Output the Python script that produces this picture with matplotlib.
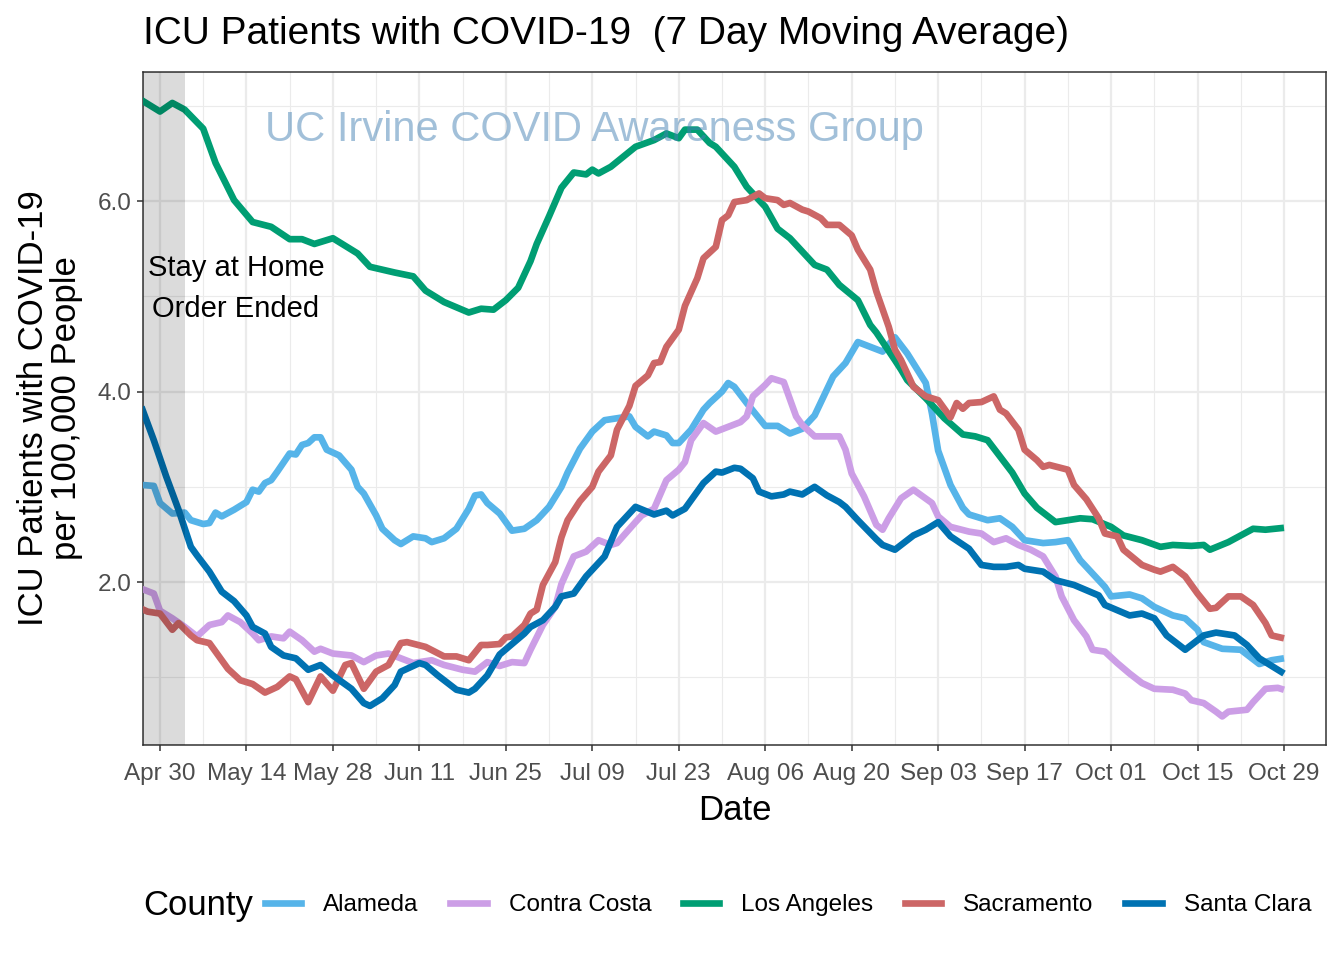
import matplotlib
matplotlib.use("Agg")
import matplotlib.pyplot as plt
import matplotlib.dates as mdates
from matplotlib.lines import Line2D
import numpy as np

# ---------------- data ----------------
BASE_DATE = "2020-04-30"   # day offsets below are relative to this date

counties = ["Alameda", "Contra Costa", "Los Angeles", "Sacramento", "Santa Clara"]
colors = ["#56B4E9", "#CC9EE6", "#009E73", "#CC6666", "#0072B2"]

alameda_days = [-3,-1,0,2,4,5,7,8,9,10,12,14,15,16,17,18,19,21,22,23,24,25,26,27,29,31,32,33,35,36,
                38,39,41,43,44,46,48,50,51,52,53,55,57,59,61,63,65,66,68,70,72,74,76,77,79,80,82,83,84,86,
                88,89,91,92,93,95,97,98,100,102,104,106,109,111,113,117,119,121,124,125,126,128,130,131,134,
                136,138,140,143,145,147,149,151,153,154,157,159,161,164,166,168,169,172,175,178,180,182]
alameda_vals = [3.02,3.01,2.83,2.72,2.73,2.65,2.61,2.62,2.73,2.69,2.76,2.84,2.97,2.95,3.04,3.07,3.16,3.35,3.34,3.44,
                3.46,3.52,3.52,3.39,3.33,3.18,3.00,2.93,2.70,2.56,2.44,2.40,2.48,2.46,2.42,2.46,2.56,2.77,2.91,2.92,
                2.83,2.72,2.54,2.56,2.65,2.79,3.00,3.15,3.40,3.58,3.70,3.72,3.74,3.63,3.53,3.58,3.54,3.46,3.46,3.60,
                3.81,3.88,4.00,4.09,4.05,3.88,3.72,3.64,3.64,3.56,3.61,3.75,4.16,4.30,4.52,4.42,4.57,4.40,4.09,3.77,
                3.38,3.02,2.78,2.71,2.65,2.67,2.58,2.44,2.41,2.42,2.44,2.23,2.09,1.95,1.85,1.87,1.83,1.74,1.65,1.62,
                1.50,1.37,1.30,1.29,1.14,1.18,1.20]

contra_costa_days = [-3,-1,0,2,4,6,8,10,11,13,15,16,18,20,21,23,25,26,28,31,33,35,37,39,41,44,46,49,51,53,
                     55,57,59,60,62,64,65,67,69,71,73,74,77,78,80,82,84,85,86,88,90,92,94,95,96,98,99,101,103,104,
                     106,108,110,111,112,114,116,117,118,120,122,125,126,128,131,133,135,137,139,141,
                     143,145,146,148,150,151,153,155,157,159,161,164,166,167,169,171,172,173,176,177,179,181,182]
contra_costa_vals = [1.93,1.88,1.70,1.62,1.53,1.43,1.55,1.58,1.65,1.58,1.46,1.39,1.43,1.41,1.48,1.39,1.27,1.30,1.25,1.23,
                     1.16,1.23,1.25,1.20,1.15,1.18,1.13,1.08,1.06,1.16,1.12,1.16,1.15,1.29,1.55,1.74,1.98,2.27,2.32,2.44,
                     2.39,2.41,2.63,2.70,2.77,3.07,3.18,3.26,3.49,3.67,3.58,3.63,3.68,3.74,3.95,4.07,4.14,4.10,3.74,3.65,
                     3.53,3.53,3.53,3.39,3.14,2.90,2.60,2.55,2.67,2.88,2.97,2.83,2.69,2.58,2.53,2.51,2.42,2.46,2.39,2.34,
                     2.27,2.06,1.85,1.60,1.43,1.29,1.27,1.15,1.04,0.94,0.88,0.87,0.83,0.76,0.73,0.64,0.59,0.64,0.66,0.74,
                     0.88,0.89,0.87]

los_angeles_days = [-3,0,2,4,7,9,12,15,18,21,23,25,28,32,34,36,38,41,43,46,50,52,54,56,58,60,61,63,65,67,
                    69,70,71,73,77,80,82,84,85,87,89,90,93,95,98,100,102,104,106,108,110,113,115,116,119,120,121,
                    124,127,130,132,134,136,138,140,142,145,147,149,151,154,156,159,162,164,167,169,170,173,177,179,182]
los_angeles_vals = [7.06,6.94,7.03,6.96,6.76,6.40,6.01,5.78,5.73,5.60,5.60,5.55,5.61,5.45,5.31,5.28,5.25,5.21,5.06,4.94,
                    4.83,4.87,4.86,4.96,5.09,5.37,5.55,5.84,6.14,6.30,6.28,6.33,6.29,6.36,6.57,6.64,6.71,6.66,6.75,6.75,
                    6.61,6.57,6.36,6.15,5.94,5.71,5.61,5.47,5.33,5.28,5.12,4.96,4.70,4.62,4.33,4.23,4.12,3.93,3.72,3.55,
                    3.53,3.49,3.32,3.15,2.93,2.78,2.63,2.65,2.67,2.66,2.58,2.49,2.44,2.37,2.39,2.38,2.39,2.34,2.42,2.56,
                    2.55,2.57]

sacramento_days = [-3,-2,0,2,3,5,6,8,10,11,13,15,17,19,21,22,24,26,28,30,31,33,35,37,39,40,43,46,48,50,
                   52,53,55,56,57,59,60,61,62,64,65,66,68,70,71,73,74,76,77,79,80,81,82,84,85,87,88,90,91,92,
                   93,95,97,98,100,101,102,104,105,107,108,110,112,113,115,116,118,119,120,121,
                   122,124,126,128,129,130,131,133,134,135,136,137,139,140,142,143,144,147,148,150,
                   152,153,155,156,159,161,162,164,166,168,170,171,173,175,177,179,180,182]
sacramento_vals = [1.72,1.69,1.67,1.50,1.57,1.44,1.39,1.36,1.18,1.09,0.97,0.93,0.84,0.90,1.01,0.98,0.74,1.01,0.86,1.13,
                   1.15,0.88,1.06,1.13,1.36,1.37,1.32,1.22,1.22,1.18,1.34,1.34,1.35,1.42,1.43,1.55,1.67,1.71,1.97,2.21,
                   2.47,2.65,2.85,3.00,3.16,3.33,3.60,3.85,4.06,4.17,4.30,4.31,4.47,4.65,4.90,5.19,5.40,5.52,5.80,5.85,
                   5.99,6.01,6.08,6.03,6.01,5.96,5.98,5.91,5.89,5.82,5.75,5.75,5.64,5.49,5.28,5.05,4.68,4.44,4.33,4.19,
                   4.05,3.95,3.91,3.73,3.88,3.82,3.88,3.89,3.92,3.95,3.81,3.77,3.60,3.39,3.28,3.21,3.23,3.18,3.02,2.87,
                   2.67,2.51,2.48,2.34,2.18,2.13,2.11,2.16,2.06,1.88,1.72,1.73,1.85,1.85,1.76,1.57,1.44,1.41]

santa_clara_days = [-3,-1,1,3,5,6,8,10,12,14,15,17,18,20,22,24,26,28,31,33,34,36,38,39,42,43,45,48,50,51,
                    53,55,57,59,60,62,64,65,67,69,72,74,76,77,80,82,83,85,88,90,91,93,94,96,97,99,101,102,104,106,
                    108,110,111,113,116,117,119,122,124,126,128,131,133,135,137,139,140,143,145,148,
                    152,153,157,159,161,163,166,169,171,174,176,178,182]
santa_clara_vals = [3.84,3.49,3.11,2.76,2.37,2.28,2.11,1.90,1.80,1.65,1.53,1.46,1.32,1.23,1.20,1.08,1.13,1.02,0.88,0.73,
                    0.70,0.78,0.92,1.06,1.15,1.13,1.02,0.87,0.84,0.88,1.02,1.24,1.35,1.46,1.53,1.60,1.74,1.85,1.88,2.06,
                    2.27,2.58,2.72,2.79,2.71,2.75,2.70,2.77,3.04,3.16,3.15,3.20,3.19,3.09,2.95,2.90,2.92,2.95,2.92,3.00,
                    2.91,2.84,2.79,2.65,2.45,2.39,2.34,2.49,2.55,2.63,2.48,2.35,2.18,2.16,2.16,2.18,2.14,2.11,2.02,1.97,
                    1.86,1.76,1.65,1.67,1.62,1.44,1.29,1.44,1.47,1.44,1.34,1.20,1.04]

series_days = [alameda_days, contra_costa_days, los_angeles_days, sacramento_days, santa_clara_days]
series_vals = [alameda_vals, contra_costa_vals, los_angeles_vals, sacramento_vals, santa_clara_vals]

order_end_day = 4          # May 04 : Stay at Home order ended
x_tick_days = list(range(0, 183, 14))
x_minor_days = list(range(7, 189, 7))
y_major = [2.0, 4.0, 6.0]
y_minor = [1.0, 3.0, 5.0, 7.0]

# ---------------- figure ----------------
FONT = "Liberation Sans"
plt.rcParams["font.family"] = [FONT, "DejaVu Sans"]

W, H = 1344, 960
LW = 4.8
fig = plt.figure(figsize=(W / 100, H / 100), dpi=100)
ax = fig.add_axes([143 / W, 1 - 745 / H, (1326 - 143) / W, (745 - 72) / H])

base = mdates.date2num(np.datetime64(BASE_DATE))

for name, col, d, v in zip(counties, colors, series_days, series_vals):
    if len(d) != len(v):
        raise ValueError(f"{name}: {len(d)} days vs {len(v)} values")
    ax.plot(base + np.asarray(d, float), v, color=col, lw=LW,
            solid_joinstyle="round", solid_capstyle="butt", zorder=3, label=name)

x_left = base - 2.75
x_right = base + 188.8
ax.set_xlim(x_left, x_right)
ax.set_ylim(0.29, 7.355)

# shaded period
ax.axvspan(x_left - 5, base + order_end_day, color="black", alpha=0.14, lw=0, zorder=4)

# ticks / grid
ax.set_xticks(base + np.array(x_tick_days))
ax.set_xticks(base + np.array(x_minor_days), minor=True)
ax.xaxis.set_major_formatter(mdates.DateFormatter("%b %d"))
ax.set_yticks(y_major)
ax.set_yticks(y_minor, minor=True)
ax.set_yticklabels([f"{t:.1f}" for t in y_major])

ax.grid(which="major", color="#EBEBEB", lw=1.6, zorder=0)
ax.grid(which="minor", color="#EBEBEB", lw=0.8, zorder=0)
ax.set_axisbelow(True)
ax.tick_params(which="major", length=4.3, width=1.1, color="#333333",
               labelsize=17.5, labelcolor="#4D4D4D", pad=4)
ax.tick_params(axis="x", which="major", pad=8.5)
ax.tick_params(which="minor", length=0)
for s in ax.spines.values():
    s.set_color("#333333")
    s.set_linewidth(1.1)

# annotations
ax.text(base + 12.3, 5.08, "Stay at Home\nOrder Ended", ha="center", va="center",
        fontsize=21, color="black", linespacing=1.6, zorder=5)
ax.text(base + 70.4, 6.745, "UC Irvine COVID Awareness Group", ha="center", va="center",
        fontsize=30, color="steelblue", alpha=0.5, zorder=6)

# titles
fig.text(143 / W, 1 - 44 / H, "ICU Patients with COVID-19  (7 Day Moving Average)",
         ha="left", va="baseline", fontsize=28, color="black")
fig.text(734.5 / W, 1 - 810 / H, "Date", ha="center", va="center", fontsize=25, color="black")
fig.text(50 / W, 1 - 408 / H, "ICU Patients with COVID-19\nper 100,000 People", ha="center",
         va="center", rotation=90, fontsize=25, color="black", linespacing=1.0)

# legend
handles = [Line2D([], [], color=c, lw=LW) for c in colors]
fig.text(143 / W, 1 - 905 / H, "County", ha="left", va="center", fontsize=25, color="black")
fig.legend(handles, counties, loc="center left", bbox_to_anchor=(265 / W, 1 - 905 / H),
           ncol=5, frameon=False, fontsize=17.5, handlelength=1.5, handletextpad=0.9,
           columnspacing=1.3, borderpad=0, borderaxespad=0)

fig.savefig("out.png", dpi=100)
